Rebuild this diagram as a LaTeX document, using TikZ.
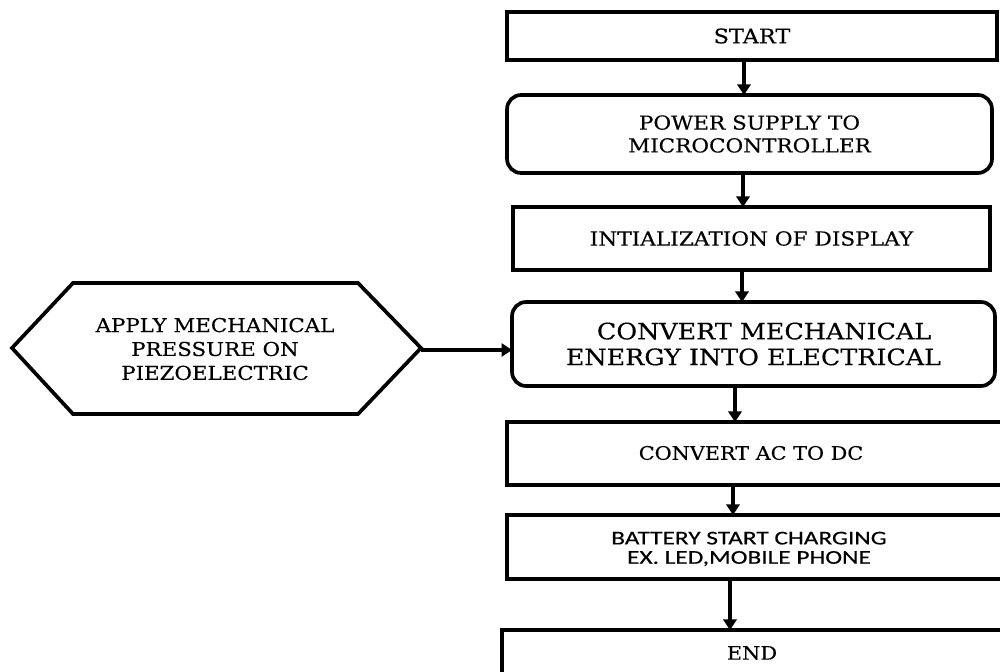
\documentclass[tikz,border=0pt]{standalone}
\usepackage{fontspec}
\setmainfont{DejaVu Serif}[FakeStretch=1.12,FakeBold=0.3]
\newfontfamily\battfont{Carlito}[FakeStretch=1.3,FakeBold=0.3]
\usetikzlibrary{arrows.meta}
\begin{document}
\begin{tikzpicture}[x=0.02cm,y=-0.02cm,
  box/.style={draw, line width=2.1pt, rectangle, inner sep=0pt, outer sep=0pt, align=center},
  rbox/.style={box, rounded corners=8pt},
  arr/.style={line width=2.1pt, -{Triangle[width=7.5pt,length=6pt]}},
  txt/.style={align=center, inner sep=0pt, font=\fontsize{10.8}{13}\selectfont},
  bigtxt/.style={align=center, inner sep=0pt, font=\fontsize{12.9}{14.7}\selectfont},
  sanstxt/.style={align=center, inner sep=0pt, font=\battfont\fontsize{11.1}{11}\selectfont}]
\useasboundingbox (0,0) rectangle (1000,672);
\clip (0,0) rectangle (1000,672);
% boxes
\node[box, line width=2.4pt, minimum width=9.8cm, minimum height=0.96cm, txt, font=\fontsize{11.4}{13}\selectfont] (start) at (752,36) {START};
\node[rbox, minimum width=9.7cm, minimum height=1.56cm, txt, font=\fontsize{10.95}{13}\selectfont] (power) at (749.5,134) {POWER SUPPLY TO\\MICROCONTROLLER};
\node[box, minimum width=9.54cm, minimum height=1.26cm, txt, font=\fontsize{11.0}{13}\selectfont] (init) at (751.5,238.5) {INTIALIZATION OF DISPLAY};
\node[rbox, minimum width=9.66cm, minimum height=1.68cm, bigtxt] (conv) at (753.5,344) {\hspace*{12pt}CONVERT MECHANICAL\\ENERGY INTO ELECTRICAL};
\node[box, minimum width=10.06cm, minimum height=1.26cm] (ac) at (758.5,453.5) {};
\node[box, minimum width=10.06cm, minimum height=1.28cm] (batt) at (758.5,547) {};
\node[box, minimum width=10.16cm, minimum height=1.4cm] (end) at (756,665) {};
\node[txt, font=\fontsize{10.55}{13}\selectfont] (actext) at (751,453) {CONVERT AC TO DC};
\node[sanstxt] (batttext) at (749,549) {BATTERY START CHARGING\\EX. LED,MOBILE PHONE};
\node[txt, font=\fontsize{10.6}{13}\selectfont] (endtext) at (752,653) {END};
% hexagon
\draw[line width=2.1pt, line join=miter] (12,348) -- (73,283) -- (358,283) -- (421,348) -- (358,414) -- (73,414) -- cycle;
\coordinate (hexR) at (421,350);
\node[txt, font=\fontsize{10.85}{13.6}\selectfont] (apply) at (215,349) {APPLY MECHANICAL\\PRESSURE ON\\PIEZOELECTRIC};
% arrow columns
\coordinate (c1) at (744,0);
\coordinate (c2) at (743,0);
\coordinate (c3) at (742,0);
\coordinate (c4) at (735,0);
\coordinate (c5) at (733,0);
\coordinate (c6) at (730,0);
\draw[arr] (start.south -| c1) -- (power.north -| c1);
\draw[arr] (power.south -| c2) -- (init.north -| c2);
\draw[arr] (init.south -| c3) -- (conv.north -| c3);
\draw[arr] (conv.south -| c4) -- (ac.north -| c4);
\draw[arr] (ac.south -| c5) -- (batt.north -| c5);
\draw[arr] (batt.south -| c6) -- (end.north -| c6);
\draw[arr] (hexR) -- (conv.west |- hexR);
\end{tikzpicture}
\end{document}
